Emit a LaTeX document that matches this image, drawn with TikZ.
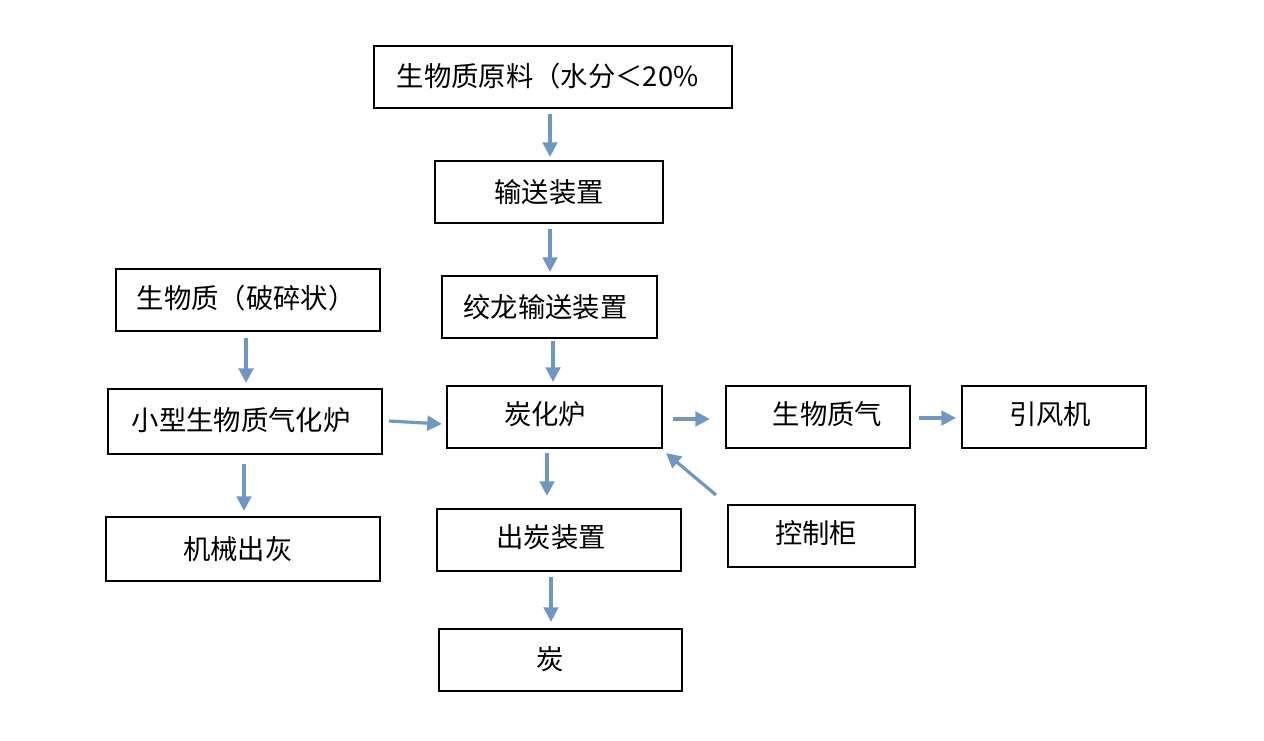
\documentclass[tikz,border=0pt]{standalone}
\usepackage{fontspec}
\newfontfamily\cjk{Noto Sans CJK SC}
\usetikzlibrary{arrows.meta,calc}
\definecolor{arrowblue}{HTML}{6F97C4}
\tikzset{
  box/.style={draw=black, line width=1.6pt, fill=white, inner sep=0pt},
  flow/.style={draw=arrowblue, line width=2.4pt, -{Triangle[width=11pt,length=11pt]}},
  lbl/.style={font=\cjk\fontsize{20.5}{24}\selectfont}
}
\begin{document}
\begin{tikzpicture}[x=0.75pt,y=-0.75pt]
\useasboundingbox (0,0) rectangle (1264,741);
% boxes
\node[box, minimum width=358*0.75pt, minimum height=62*0.75pt,
  label={[lbl,xshift=-4pt,yshift=1pt]center:生物质原料（水分＜20\%}] (n1) at (553,77) {};
\node[box, minimum width=228*0.75pt, minimum height=62*0.75pt,
  label={[lbl]center:输送装置}] (n2) at (549,192) {};
\node[box, minimum width=215*0.75pt, minimum height=62*0.75pt,
  label={[lbl,xshift=-3pt]center:绞龙输送装置}] (n3) at (549.5,307) {};
\node[box, minimum width=264*0.75pt, minimum height=62*0.75pt,
  label={[lbl,xshift=-1.5pt,yshift=1.5pt]center:生物质（破碎状）}] (n4) at (248,300) {};
\node[box, minimum width=274*0.75pt, minimum height=65*0.75pt,
  label={[lbl,xshift=-3pt,yshift=1pt]center:小型生物质气化炉}] (n5) at (245,421.5) {};
\node[box, minimum width=215*0.75pt, minimum height=62*0.75pt,
  label={[lbl,xshift=-7pt,yshift=2pt]center:炭化炉}] (n6) at (554.5,417) {};
\node[box, minimum width=184*0.75pt, minimum height=62*0.75pt,
  label={[lbl,xshift=7pt,yshift=2pt]center:生物质气}] (n7) at (818,417) {};
\node[box, minimum width=184*0.75pt, minimum height=62*0.75pt,
  label={[lbl,xshift=-3pt,yshift=2pt]center:引风机}] (n8) at (1054,417) {};
\node[box, minimum width=274*0.75pt, minimum height=64*0.75pt,
  label={[lbl,xshift=-4pt]center:机械出灰}] (n9) at (243,549) {};
\node[box, minimum width=244*0.75pt, minimum height=62*0.75pt,
  label={[lbl,xshift=-6pt,yshift=2pt]center:出炭装置}] (n10) at (559,540) {};
\node[box, minimum width=187*0.75pt, minimum height=62*0.75pt,
  label={[lbl,xshift=-4pt,yshift=2pt]center:控制柜}] (n11) at (821.5,536) {};
\node[box, minimum width=243*0.75pt, minimum height=62*0.75pt,
  label={[lbl,xshift=-8pt,yshift=1pt]center:炭}] (n12) at (560.5,660) {};
% connectors
\draw[flow] ($(n1.south)+(-3,5)$) -- ($(n2.north)+(1,-3)$);
\draw[flow] ($(n2.south)+(1,5)$) -- ($(n3.north)+(0.5,-3)$);
\draw[flow] ($(n3.south)+(3.5,2)$) -- ($(n6.north)+(-1.5,-3)$);
\draw[flow] ($(n4.south)+(-2,6)$) -- ($(n5.north)+(1,-5)$);
\draw[flow] ($(n5.east)+(6,-0.5)$) -- ($(n6.west)+(-4,7)$);
\draw[flow] ($(n6.east)+(10,2)$) -- ($(n7.west)+(-15,2)$);
\draw[flow] ($(n7.east)+(8,1)$) -- ($(n8.west)+(-5,1)$);
\draw[flow] ($(n6.south)+(-7.5,4)$) -- ($(n10.north)+(-12,-12)$);
\draw[flow] ($(n5.south)+(-1,9)$) -- ($(n9.north)+(1,-5)$);
\draw[flow] ($(n10.south)+(-8,5)$) -- ($(n12.north)+(-9.5,-6)$);
\draw[flow] ($(n11.north west)+(-11,-9)$) -- ($(n6.south east)+(3,4)$);
\end{tikzpicture}
\end{document}
